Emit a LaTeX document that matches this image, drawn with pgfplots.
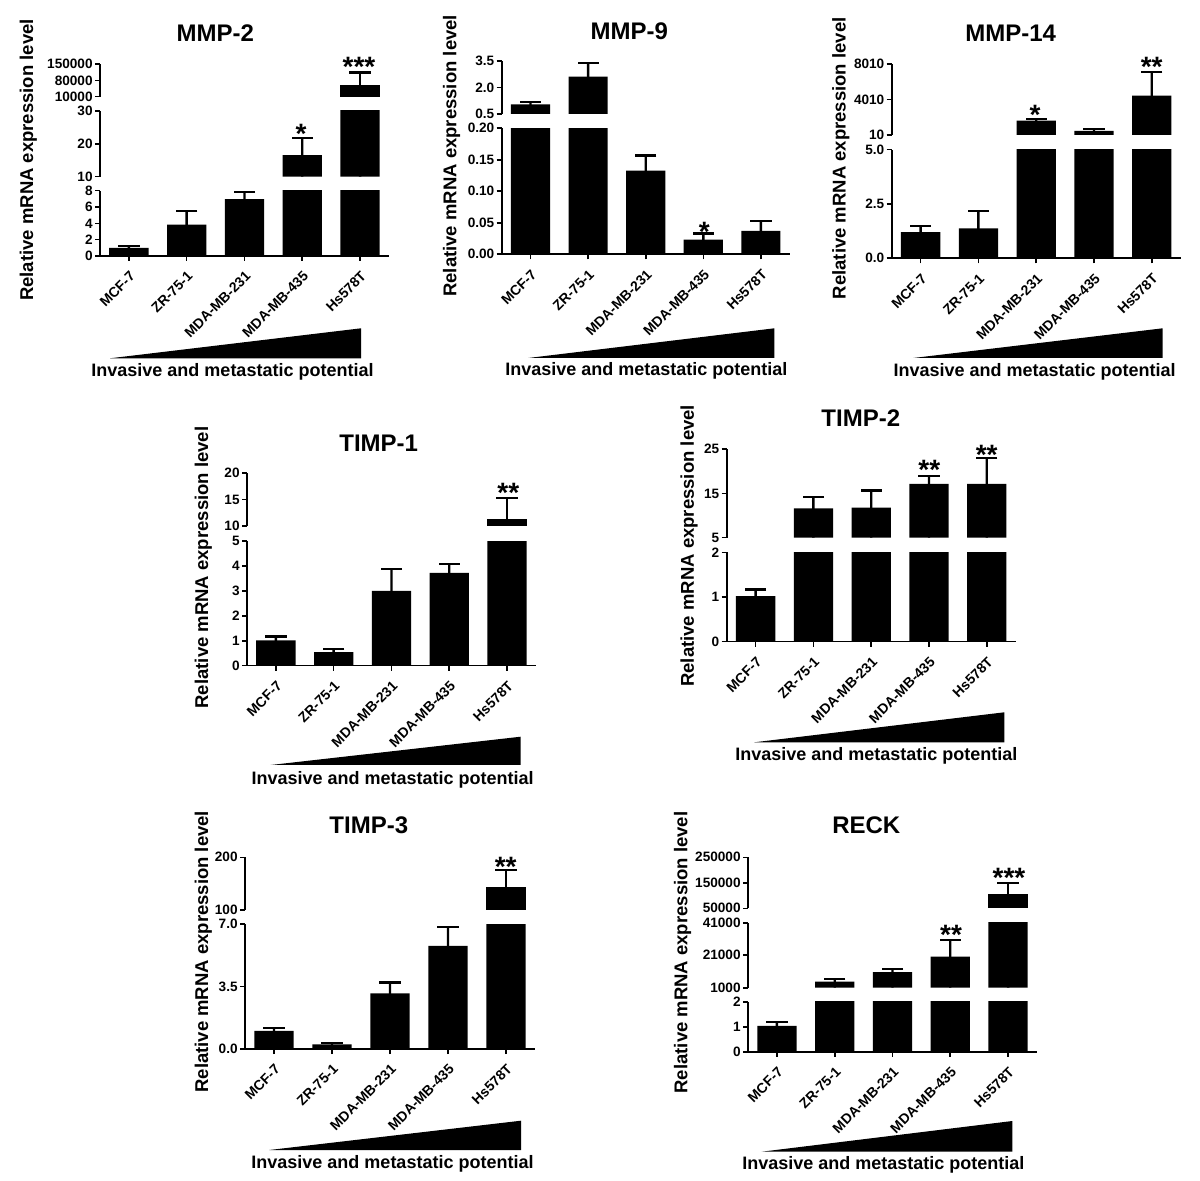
\documentclass[border=0pt]{standalone}
\usepackage{fontspec}
\setmainfont{Liberation Sans}
\usepackage{pgfplots}
\usepackage{pgfplotstable}
\pgfplotsset{compat=1.18}

\pgfplotstableread{
x y e
0 1.0 0.2
1 3.85 1.7
2 6.98 0.82
3 16.6 5.2
4 60240 52760
}\mmpA
\pgfplotstableread{
x y e
0 1.05 0.13
1 2.61 0.76
2 0.133 0.024
3 0.0232 0.010
4 0.037 0.016
}\mmpB
\pgfplotstableread{
x y e
0 1.2 0.3
1 1.38 0.81
2 1630 160
3 463 227
4 4463 2690
}\mmpC
\pgfplotstableread{
x y e
0 1.02 0.15
1 0.54 0.13
2 3.0 0.88
3 3.72 0.36
4 11.3 3.95
}\timpA
\pgfplotstableread{
x y e
0 1.02 0.15
1 11.65 2.55
2 11.8 3.9
3 17.15 1.85
4 17.15 5.85
}\timpB
\pgfplotstableread{
x y e
0 1.02 0.14
1 0.26 0.09
2 3.12 0.61
3 5.77 1.08
4 143 33
}\timpC
\pgfplotstableread{
x y e
0 1.03 0.15
1 4700 1650
2 10660 1640
3 20080 10270
4 104900 45100
}\reck

\pgfplotsset{
  seg/.style={scale only axis, anchor=south west, xmin=-0.5, xmax=4.5,
    scaled y ticks=false,
    axis line style={line width=0.8pt, black},
    tick style={line width=0.8pt, black},
    major tick length=2.5pt, tick align=outside,
    yticklabel style={font=\fontsize{6.8}{7}\selectfont\bfseries, inner sep=1pt}},
  low/.style={seg, axis x line*=bottom, axis y line*=left, xtick={0,1,2,3,4},
    xticklabels={MCF-7,ZR-75-1,MDA-MB-231,MDA-MB-435,Hs578T},
    xticklabel style={yshift=-3pt, rotate=45, anchor=north east, font=\fontsize{7}{8}\selectfont\bfseries, inner sep=1pt}},
  up/.style={seg, axis x line=none, axis y line*=left, xtick=\empty},
}
% #1 table, #2/#3 segment limits, #4/#5 clamps just outside the segment
% bar = mean; thin bar up to mean+SD = error line; marks = error caps
\newcommand{\bplot}[5]{%
\addplot[ybar, bar width=0.68, fill=black, draw=none, restrict y to domain=#2:#5] table[x=x,
  y expr={min(max(\thisrow{y},#4),#5)}]{#1};
\addplot[ybar, bar width=1.2pt, fill=black, draw=none, restrict y to domain=#2:#5] table[x=x,
  y expr={min(max(\thisrow{y}+\thisrow{e},#4),#5)}]{#1};
\addplot[only marks, mark=-, mark size=5.3pt, mark options={line width=1.15pt, black, solid},
  restrict y to domain=#2:#3] table[x=x,
  y expr={min(max(\thisrow{y}+\thisrow{e},#4),#5)}]{#1};
}

\begin{document}
\begin{tikzpicture}[x=0.5pt, y=-0.5pt]
\path[use as bounding box] (0,0) rectangle (1200,1181);
\coordinate (A1) at (100,256);
\coordinate (A2) at (100,176.7);
\coordinate (A3) at (100,96.7);
\coordinate (B1) at (501.7,254.3);
\coordinate (B2) at (501.7,114);
\coordinate (C1) at (891.7,258.3);
\coordinate (C2) at (891.7,135);
\coordinate (D1) at (247,665.7);
\coordinate (D2) at (247,526);
\coordinate (E1) at (726.7,641.7);
\coordinate (E2) at (726.7,537.7);
\coordinate (F1) at (245,1049);
\coordinate (F2) at (245,910);
\coordinate (G1) at (748,1051.7);
\coordinate (G2) at (748,987.7);
\coordinate (G3) at (748,908.3);

% ---------- MMP-2
\begin{axis}[low, at={(A1)}, width=144.5pt, height=32.65pt, ymin=0, ymax=8,
  ytick={0,2,4,6,8}, yticklabels={0,2,4,6,8}]
\bplot{\mmpA}{0}{8}{-0.2}{8.2}
\end{axis}
\begin{axis}[up, at={(A2)}, width=144.5pt, height=32.85pt, ymin=10, ymax=30,
  ytick={10,20,30}, yticklabels={10,20,30}]
\bplot{\mmpA}{10}{30}{9.5}{30.5}
\end{axis}
\begin{axis}[up, at={(A3)}, width=144.5pt, height=16.35pt, ymin=10000, ymax=150000,
  ytick={10000,80000,150000}, yticklabels={10000,80000,150000}]
\bplot{\mmpA}{10000}{150000}{7000}{153000}
\end{axis}

% ---------- MMP-9
\begin{axis}[low, at={(B1)}, width=144pt, height=63pt, ymin=0, ymax=0.2,
  ytick={0,0.05,0.1,0.15,0.2}, yticklabels={0.00,0.05,0.10,0.15,0.20}]
\bplot{\mmpB}{0}{0.2}{-0.005}{0.205}
\end{axis}
\begin{axis}[up, at={(B2)}, width=144pt, height=26.5pt, ymin=0.5, ymax=3.5,
  ytick={0.5,2,3.5}, yticklabels={0.5,2.0,3.5}]
\bplot{\mmpB}{0.5}{3.5}{0.45}{3.55}
\end{axis}

% ---------- MMP-14
\begin{axis}[low, at={(C1)}, width=144.5pt, height=54.3pt, ymin=0, ymax=5,
  ytick={0,2.5,5}, yticklabels={0.0,2.5,5.0}]
\bplot{\mmpC}{0}{5}{-0.1}{5.1}
\end{axis}
\begin{axis}[up, at={(C2)}, width=144.5pt, height=35.35pt, ymin=10, ymax=8010,
  ytick={10,4010,8010}, yticklabels={10,4010,8010}]
\bplot{\mmpC}{10}{8010}{-100}{8200}
\end{axis}

% ---------- TIMP-1
\begin{axis}[low, at={(D1)}, width=144.5pt, height=62.35pt, ymin=0, ymax=5,
  ytick={0,1,2,3,4,5}, yticklabels={0,1,2,3,4,5}]
\bplot{\timpA}{0}{5}{-0.1}{5.1}
\end{axis}
\begin{axis}[up, at={(D2)}, width=144.5pt, height=26.35pt, ymin=10, ymax=20,
  ytick={10,15,20}, yticklabels={10,15,20}]
\bplot{\timpA}{10}{20}{9.8}{20.2}
\end{axis}

% ---------- TIMP-2
\begin{axis}[low, at={(E1)}, width=144.5pt, height=44.7pt, ymin=0, ymax=2,
  ytick={0,1,2}, yticklabels={0,1,2}]
\bplot{\timpB}{0}{2}{-0.05}{2.05}
\end{axis}
\begin{axis}[up, at={(E2)}, width=144.5pt, height=44.2pt, ymin=5, ymax=25,
  ytick={5,15,25}, yticklabels={5,15,25}]
\bplot{\timpB}{5}{25}{4.6}{25.4}
\end{axis}

% ---------- TIMP-3
\begin{axis}[low, at={(F1)}, width=145pt, height=62.5pt, ymin=0, ymax=7,
  ytick={0,3.5,7}, yticklabels={0.0,3.5,7.0}]
\bplot{\timpC}{0}{7}{-0.1}{7.1}
\end{axis}
\begin{axis}[up, at={(F2)}, width=145pt, height=26.35pt, ymin=100, ymax=200,
  ytick={100,200}, yticklabels={100,200}]
\bplot{\timpC}{100}{200}{98}{202}
\end{axis}

% ---------- RECK
\begin{axis}[low, at={(G1)}, width=144.5pt, height=25pt, ymin=0, ymax=2,
  ytick={0,1,2}, yticklabels={0,1,2}]
\bplot{\reck}{0}{2}{-0.05}{2.05}
\end{axis}
\begin{axis}[up, at={(G2)}, width=144.5pt, height=32.5pt, ymin=1000, ymax=41000,
  ytick={1000,21000,41000}, yticklabels={1000,21000,41000}]
\bplot{\reck}{1000}{41000}{200}{41800}
\end{axis}
\begin{axis}[up, at={(G3)}, width=144.5pt, height=25.5pt, ymin=50000, ymax=250000,
  ytick={50000,150000,250000}, yticklabels={50000,150000,250000}]
\bplot{\reck}{50000}{250000}{46000}{254000}
\end{axis}

% ---------- titles and labels
\tikzset{ttl/.style={font=\fontsize{12}{14}\selectfont\bfseries, inner sep=0pt},
  ylab/.style={rotate=90, font=\fontsize{9.25}{11}\selectfont\bfseries, inner sep=0pt},
  blab/.style={font=\fontsize{9}{11}\selectfont\bfseries, inner sep=0pt},
  star/.style={anchor=north, inner sep=0pt, font=\fontsize{14}{16}\selectfont\bfseries}}
\node[ttl] at (215.3,32.8) {MMP-2};
\node[ttl] at (629.2,31.5) {MMP-9};
\node[ttl] at (1010.7,32.8) {MMP-14};
\node[ttl] at (378.7,443.3) {TIMP-1};
\node[ttl] at (860.8,418.3) {TIMP-2};
\node[ttl] at (368.8,825.3) {TIMP-3};
\node[ttl] at (866.3,825.3) {RECK};

\node[ylab] at (28.3,160) {Relative mRNA expression level};
\node[ylab] at (451.7,155.8) {Relative mRNA expression level};
\node[ylab] at (840.8,158.3) {Relative mRNA expression level};
\node[ylab] at (203.3,567.5) {Relative mRNA expression level};
\node[ylab] at (689.2,545.8) {Relative mRNA expression level};
\node[ylab] at (203.3,951.7) {Relative mRNA expression level};
\node[ylab] at (682.5,952.5) {Relative mRNA expression level};

\node[blab] at (232.5,372) {Invasive and metastatic potential};
\node[blab] at (646.3,371) {Invasive and metastatic potential};
\node[blab] at (1034.7,372) {Invasive and metastatic potential};
\node[blab] at (392.7,780) {Invasive and metastatic potential};
\node[blab] at (876.3,756) {Invasive and metastatic potential};
\node[blab] at (392.5,1164) {Invasive and metastatic potential};
\node[blab] at (883.3,1165) {Invasive and metastatic potential};

% ---------- triangles
\fill (110,358.3) -- (361,358.3) -- (361,328.3) -- cycle;
\fill (528.3,358) -- (774.3,358) -- (774.3,328.3) -- cycle;
\fill (913.3,358) -- (1162.7,358) -- (1162.7,328.3) -- cycle;
\fill (270.7,765) -- (520.7,765) -- (520.7,736.7) -- cycle;
\fill (754.3,742.3) -- (1004.3,742.3) -- (1004.3,712.3) -- cycle;
\fill (269.3,1150) -- (521,1150) -- (521,1120.7) -- cycle;
\fill (761.7,1151.7) -- (1012.3,1151.7) -- (1012.3,1121) -- cycle;

% ---------- significance stars
\node[star] at (301,124) {*};
\node[star] at (359,57.3) {***};
\node[star] at (704.3,221.7) {*};
\node[star] at (1035,105) {*};
\node[star] at (1151.7,57.3) {**};
\node[star] at (508.3,482.7) {**};
\node[star] at (929.3,460) {**};
\node[star] at (986.7,445) {**};
\node[star] at (505.7,856.7) {**};
\node[star] at (951,925) {**};
\node[star] at (1009,868.3) {***};
\end{tikzpicture}
\end{document}
